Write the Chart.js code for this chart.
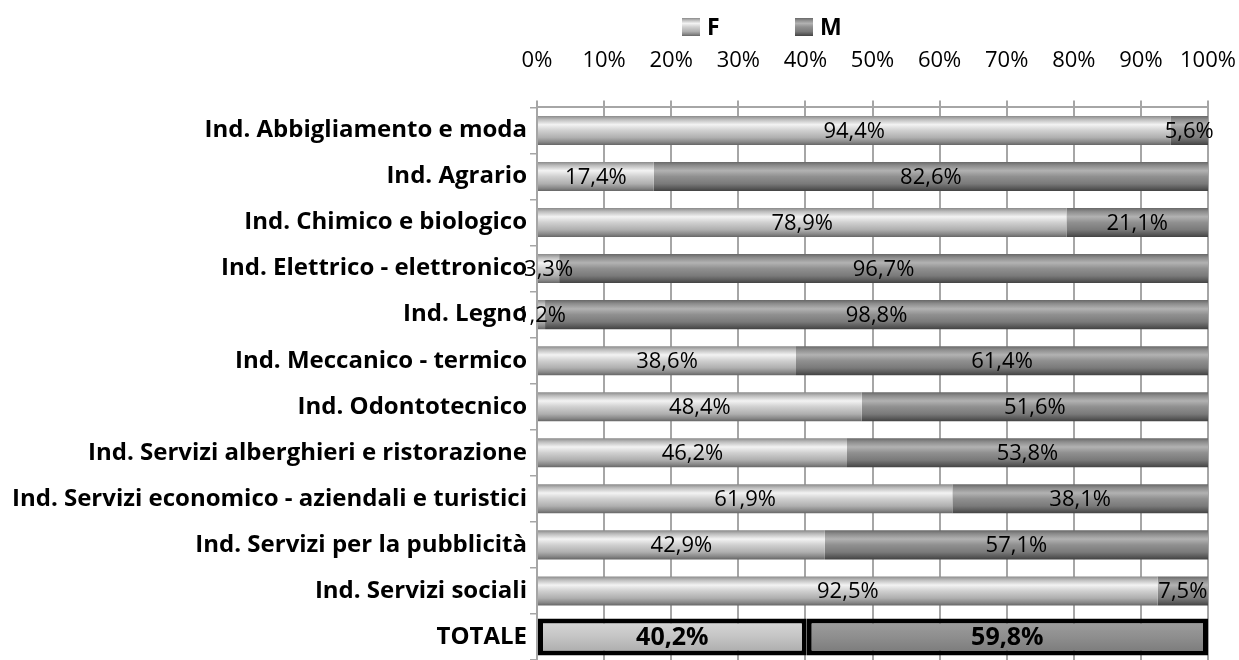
<!DOCTYPE html>
<html>
<head>
<meta charset="utf-8">
<script src="https://cdn.jsdelivr.net/npm/chart.js@4/dist/chart.umd.min.js"></script>
<style>
  html, body { margin: 0; padding: 0; background: #fff; }
</style>
</head>
<body>
<canvas id="myChart" width="1239" height="660"></canvas>
<script>
// indirizzi di studio
const categories = [
    "Ind. Abbigliamento e moda",
    "Ind. Agrario",
    "Ind. Chimico e biologico",
    "Ind. Elettrico - elettronico",
    "Ind. Legno",
    "Ind. Meccanico - termico",
    "Ind. Odontotecnico",
    "Ind. Servizi alberghieri e ristorazione",
    "Ind. Servizi economico - aziendali e turistici",
    "Ind. Servizi per la pubblicità",
    "Ind. Servizi sociali",
    "TOTALE"
];

// percentuali per genere
const valuesF = [94.4, 17.4, 78.9, 3.3, 1.2, 38.6, 48.4, 46.2, 61.9, 42.9, 92.5];
const valuesM = [5.6, 82.6, 21.1, 96.7, 98.8, 61.4, 51.6, 53.8, 38.1, 57.1, 7.5];
const totalF = 40.2;
const totalM = 59.8;

const xTickLabels = ["0%", "10%", "20%", "30%", "40%", "50%", "60%", "70%", "80%", "90%", "100%"];

const FONT = "'Open Sans'";

// rows: normal bars use the first 11 categories, the TOTALE row gets its own pair
const rowsF = valuesF.concat([null]);
const rowsM = valuesM.concat([null]);
const totRowF = categories.map((c, i) => i === categories.length - 1 ? totalF : null);
const totRowM = categories.map((c, i) => i === categories.length - 1 ? totalM : null);

const lightStops = [[0, "#8a8a8a"], [0.12, "#bcbcbc"], [0.3, "#f3f3f3"], [0.5, "#d0d0d0"], [0.75, "#afafaf"], [0.9, "#888888"], [1, "#666666"]];
const darkStops = [[0, "#686868"], [0.12, "#8c8c8c"], [0.3, "#b2b2b2"], [0.5, "#909090"], [0.75, "#7a7a7a"], [0.9, "#5a5a5a"], [1, "#424242"]];
const totLightStops = [[0, "#dadada"], [0.5, "#c4c4c4"], [1, "#a8a8a8"]];
const totDarkStops = [[0, "#a0a0a0"], [0.5, "#8e8e8e"], [1, "#787878"]];

function barGradient(stops, pct) {
    return function(context) {
        const chart = context.chart;
        const yScale = chart.scales && chart.scales.y;
        const fallback = stops[Math.floor(stops.length / 2)][1];
        if (!yScale || context.dataIndex === undefined) return fallback;
        const step = yScale.height / categories.length;
        const h = step * pct;
        const yc = yScale.getPixelForValue(context.dataIndex);
        if (!isFinite(yc) || !isFinite(h) || h <= 0) return fallback;
        const g = chart.ctx.createLinearGradient(0, yc - h / 2, 0, yc + h / 2);
        stops.forEach(s => g.addColorStop(s[0], s[1]));
        return g;
    };
}

// value labels in the middle of each segment
const valueLabels = {
    id: "valueLabels",
    afterDatasetsDraw(chart) {
        const ctx = chart.ctx;
        chart.data.datasets.forEach((ds, di) => {
            const meta = chart.getDatasetMeta(di);
            meta.data.forEach((bar, i) => {
                const v = ds.data[i];
                if (v === null || v === undefined) return;
                ctx.save();
                ctx.font = (ds.isTotal ? "bold 25px " : "22px ") + FONT;
                ctx.fillStyle = "#000";
                ctx.textAlign = "center";
                ctx.textBaseline = "middle";
                ctx.fillText(v.toFixed(1).replace(".", ",") + "%", (bar.x + bar.base) / 2, bar.y + 1);
                ctx.restore();
            });
        });
    }
};

// legend like the original (F / M with wide spacing)
const legendItems = [
    { text: "F", stops: lightStops, x: 682 },
    { text: "M", stops: darkStops, x: 795 }
];
const simpleLegend = {
    id: "simpleLegend",
    afterDraw(chart) {
        const ctx = chart.ctx;
        legendItems.forEach(item => {
            const y = 18;
            const g = ctx.createLinearGradient(0, y, 0, y + 18);
            item.stops.forEach(s => g.addColorStop(s[0], s[1]));
            ctx.save();
            ctx.fillStyle = g;
            ctx.fillRect(item.x, y, 18, 18);
            ctx.font = "bold 23px " + FONT;
            ctx.fillStyle = "#000";
            ctx.textBaseline = "middle";
            ctx.fillText(item.text, item.x + 25, y + 10);
            ctx.restore();
        });
    }
};

new Chart("myChart", {
    type: "bar",
    data: {
        labels: categories,
        datasets: [
            {
                label: "F",
                data: rowsF,
                backgroundColor: barGradient(lightStops, 0.63),
                barPercentage: 0.63,
                categoryPercentage: 1,
                borderWidth: 0
            },
            {
                label: "M",
                data: rowsM,
                backgroundColor: barGradient(darkStops, 0.63),
                barPercentage: 0.63,
                categoryPercentage: 1,
                borderWidth: 0
            },
            {
                label: "F totale",
                isTotal: true,
                data: totRowF,
                backgroundColor: barGradient(totLightStops, 0.8),
                borderColor: "#000",
                borderWidth: 5,
                borderSkipped: false,
                barPercentage: 0.8,
                categoryPercentage: 1
            },
            {
                label: "M totale",
                isTotal: true,
                data: totRowM,
                backgroundColor: barGradient(totDarkStops, 0.8),
                borderColor: "#000",
                borderWidth: 5,
                borderSkipped: false,
                barPercentage: 0.8,
                categoryPercentage: 1
            }
        ]
    },
    options: {
        indexAxis: "y",
        responsive: false,
        animation: false,
        devicePixelRatio: 1,
        layout: {
            padding: { top: 22, right: 0, bottom: 0, left: 0 }
        },
        plugins: {
            legend: { display: false },
            tooltip: { enabled: false }
        },
        scales: {
            x: {
                position: "top",
                stacked: true,
                min: 0,
                max: 100,
                afterFit: function(scale) {
                    scale.paddingLeft = 0;
                    scale.paddingRight = 31;
                },
                ticks: {
                    stepSize: 10,
                    autoSkip: false,
                    maxRotation: 0,
                    padding: 26,
                    color: "#000",
                    font: { family: FONT, size: 22 },
                    callback: (value, index) => xTickLabels[index]
                },
                grid: {
                    color: "#a6a6a6",
                    lineWidth: 2,
                    tickLength: 7
                },
                border: { color: "#a6a6a6", width: 2 }
            },
            y: {
                stacked: true,
                afterFit: function(scale) {
                    scale.width = 537;
                    scale.paddingTop = 0;
                    scale.paddingBottom = 0;
                },
                ticks: {
                    padding: 3,
                    color: "#000",
                    font: { family: FONT, size: 24, weight: "bold" }
                },
                grid: {
                    drawOnChartArea: false,
                    offset: true,
                    color: "#a6a6a6",
                    lineWidth: 1.5,
                    tickLength: 7
                },
                border: { color: "#a6a6a6", width: 2 }
            }
        }
    },
    plugins: [valueLabels, simpleLegend]
});
</script>
</body>
</html>
